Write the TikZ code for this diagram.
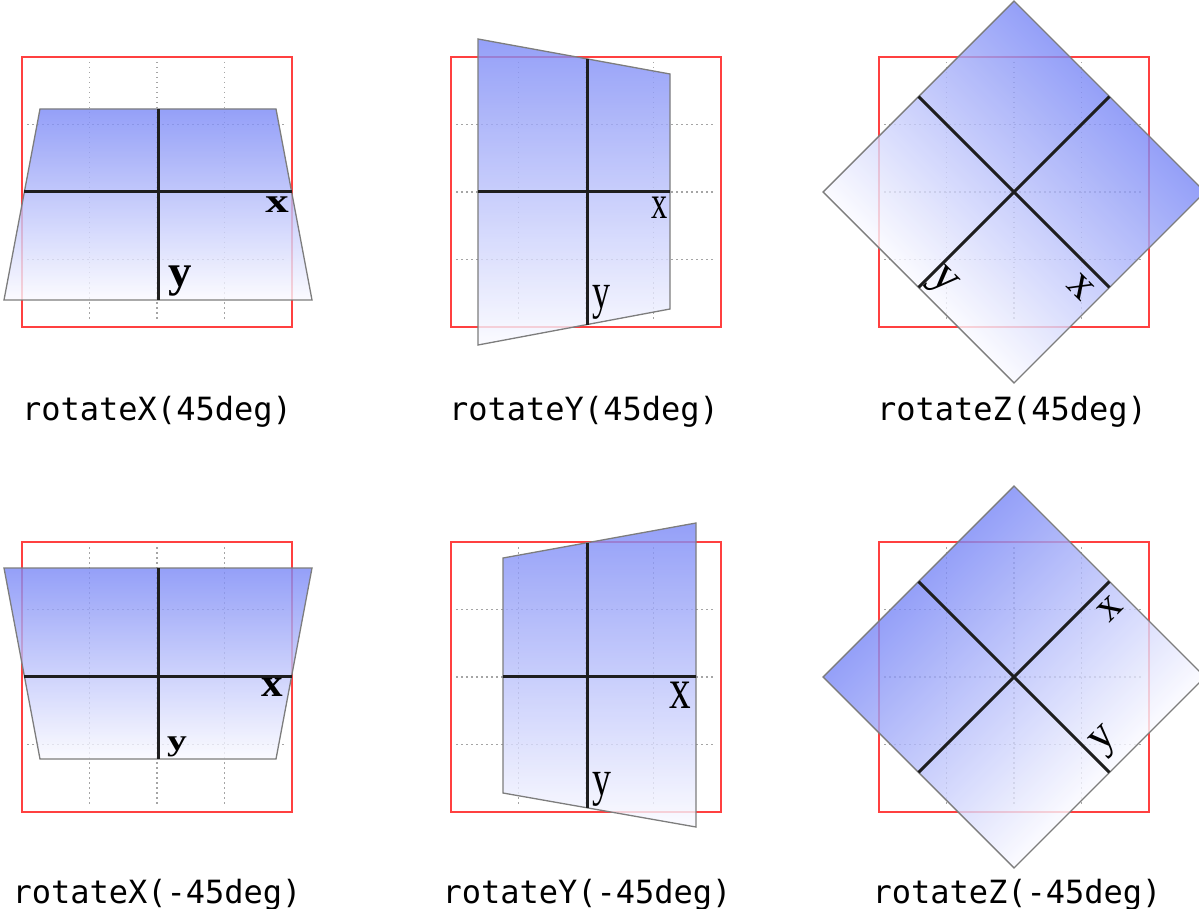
\documentclass[tikz,border=0pt]{standalone}
\usepackage{fontspec}
\usepackage{graphicx}
\setmonofont{DejaVu Sans Mono}
\newfontfamily\lblfont{Liberation Serif}

\begin{document}
\begin{tikzpicture}[x=1pt,y=-1pt,
  gridline/.style={cGrid, line width=1.2pt, dash pattern=on 1.5pt off 3.5pt},
  redbox/.style={draw=cRed, line width=2.4pt},
  plane/.style={top color=cTop, bottom color=cBot, draw=cEdge, line width=1.3pt, fill opacity=0.8},
  axisline/.style={cAxis, line width=3pt},
  lbl/.style={inner sep=0pt, font=\lblfont\fontsize{36}{36}\selectfont},
  caption/.style={inner sep=0pt, anchor=base, font=\ttfamily\fontsize{32}{36}\selectfont}]

  % Colors
  \definecolor{cTop}{RGB}{122,136,246}   % blue end of the gradient
  \definecolor{cBot}{RGB}{250,250,255}   % white end
  \definecolor{cRed}{RGB}{255,64,64}
  \definecolor{cGrid}{RGB}{165,165,165}
  \definecolor{cEdge}{RGB}{125,125,125}
  \definecolor{cAxis}{RGB}{30,30,30}

  \useasboundingbox (0,0) rectangle (1199,909);

  % ---- red reference squares with their dotted 4x4 grid ----
  \foreach \cx/\cy in {157/192,586/192,1014/192,157/677,586/677,1014/677} {
    \foreach \d in {-67.5,0,67.5} {
      \draw[gridline] ({\cx+\d},{\cy-130}) -- ({\cx+\d},{\cy+130});
      \draw[gridline] ({\cx-130},{\cy+\d}) -- ({\cx+130},{\cy+\d});
    }
    \draw[redbox] ({\cx-135},{\cy-135}) rectangle ({\cx+135},{\cy+135});
  }

  % ---- rotateX(45deg) ----
  \shade[plane] (40,109) -- (276,109) -- (312,300) -- (4,300) -- cycle;
  \draw[axisline] (24,192) -- (292,192);
  \draw[axisline] (158,109) -- (158,300);
  \node[lbl] (x1) at (277,205) {\bfseries\scalebox{1.3}[0.95]{x}};
  \node[lbl] (y1) at (180,281) {\bfseries\scalebox{1.3}[1.25]{y}};

  % ---- rotateY(45deg) ----
  \shade[plane] (478,39) -- (670,74) -- (670,309) -- (478,345) -- cycle;
  \draw[axisline] (478,192) -- (670,192);
  \draw[axisline] (587,59) -- (587,325);
  \node[lbl] (x2) at (660,208) {\scalebox{0.9}[1.3]{x}};
  \node[lbl] (y2) at (601,302) {\scalebox{1.0}[1.4]{y}};

  % ---- rotateZ(45deg) ----
  \begin{scope}[transform canvas={shift={(1014,192)}, rotate=-45}]
    \shade[plane] (-135,-135) rectangle (135,135);
    \draw[axisline] (-135,0) -- (135,0);
    \draw[axisline] (0,-135) -- (0,135);
    \node[lbl] (x3) at (114,20) {\scalebox{1.25}{x}};
    \node[lbl] (y3) at (13,115) {\scalebox{1.3}{y}};
  \end{scope}

  % ---- rotateX(-45deg) ----
  \shade[plane] (4,568) -- (312,568) -- (276,759) -- (40,759) -- cycle;
  \draw[axisline] (24,676) -- (292,676);
  \draw[axisline] (158,568) -- (158,759);
  \node[lbl] (x4) at (272,687) {\bfseries\scalebox{1.2}[1.1]{x}};
  \node[lbl] (y4) at (177,747) {\bfseries\scalebox{1.1}[0.83]{y}};

  % ---- rotateY(-45deg) ----
  \shade[plane] (503,558) -- (696,523) -- (696,827) -- (503,793) -- cycle;
  \draw[axisline] (503,676) -- (696,676);
  \draw[axisline] (587,543) -- (587,808);
  \node[lbl] (x5) at (680,695) {\scalebox{1.2}[1.6]{x}};
  \node[lbl] (y5) at (602,789) {\scalebox{1.05}[1.4]{y}};

  % ---- rotateZ(-45deg) ----
  \begin{scope}[transform canvas={shift={(1014,677)}, rotate=45}]
    \shade[plane] (-135,-135) rectangle (135,135);
    \draw[axisline] (-135,0) -- (135,0);
    \draw[axisline] (0,-135) -- (0,135);
    \node[lbl] (x6) at (116,20) {\scalebox{1.2}{x}};
    \node[lbl] (y6) at (19,110) {\scalebox{1.25}{y}};
  \end{scope}

  % Captions
  \node[caption] (capX1) at (157,420) {rotateX(45deg)};
  \node[caption] (capY1) at (584,420) {rotateY(45deg)};
  \node[caption] (capZ1) at (1012,420) {rotateZ(45deg)};
  \node[caption] (capX2) at (157,903) {rotateX(-45deg)};
  \node[caption] (capY2) at (587,903) {rotateY(-45deg)};
  \node[caption] (capZ2) at (1017,903) {rotateZ(-45deg)};

\end{tikzpicture}
\end{document}
